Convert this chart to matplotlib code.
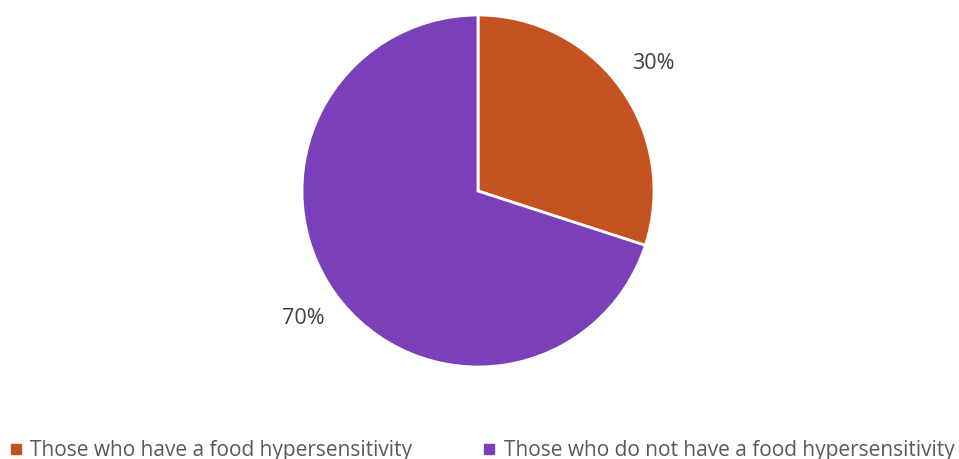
import matplotlib.pyplot as plt
from matplotlib.lines import Line2D

labels = ['Those who have a food hypersensitivity',
          'Those who do not have a food hypersensitivity']
values = [30, 70]
colors = ['#C55322', '#7B40B9']

plt.rcParams['font.family'] = ['Open Sans', 'DejaVu Sans']

fig = plt.figure(figsize=(9.59, 4.59), dpi=100)
# pie box: center (478,191) px, radius 176 px
ax = fig.add_axes([(478 - 176) / 959, (459 - 367) / 459, 352 / 959, 352 / 459])
wedges, texts, autotexts = ax.pie(values, colors=colors, startangle=90, counterclock=False,
                                  autopct='%1.0f%%', pctdistance=1.23,
                                  wedgeprops=dict(edgecolor='white', linewidth=2),
                                  textprops=dict(color='#404040', fontsize=15.5))
ax.set_xlim(-1, 1)
ax.set_ylim(-1, 1)
ax.set_aspect('equal')

handles = [Line2D([], [], marker='s', linestyle='', markersize=7,
                  markerfacecolor=c, markeredgecolor=c) for c in colors]
fig.legend(handles, labels, loc='lower left', bbox_to_anchor=(-0.012, -0.045), ncol=2,
           frameon=False, fontsize=15, labelcolor='#595959',
           handlelength=0.8, handletextpad=0.3, columnspacing=3.3)

fig.savefig('out.png', dpi=100)
